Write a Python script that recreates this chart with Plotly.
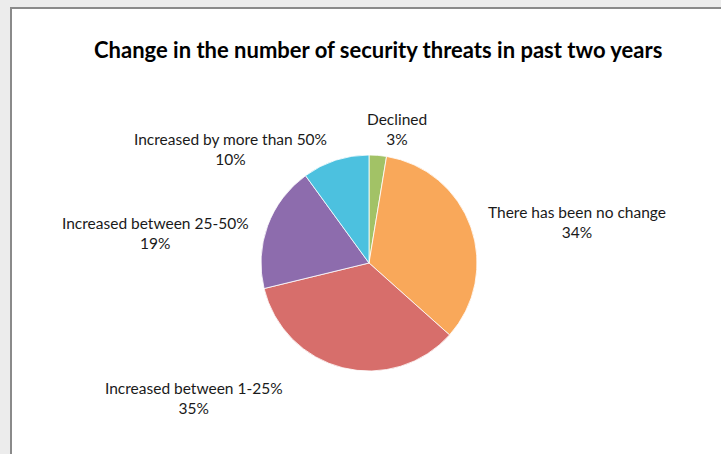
import plotly.graph_objects as go

categories = ["Declined", "There has been no change", "Increased between 1-25%",
              "Increased between 25-50%", "Increased by more than 50%"]
values = [2.6, 34.0, 34.6, 18.8, 10.0]
colors = ["#A2C266", "#F9A85A", "#D76E6B", "#8D6CAD", "#4CC1DF"]
title_text = "Change in the number of security threats in past two years"

W, H = 721, 454
cx, cy, r = 369, 263, 108

fig = go.Figure(go.Pie(
    labels=categories, values=values, sort=False, direction="clockwise",
    rotation=0, textinfo="none", hoverinfo="label+percent",
    marker=dict(colors=colors, line=dict(color="rgba(255,255,255,0.8)", width=1)),
    domain=dict(x=[(cx - r) / W, (cx + r) / W], y=[(H - cy - r) / H, (H - cy + r) / H]),
    showlegend=False,
))

# label positions (pixel centers) for each category
label_pos = [(397, 129), (577, 222), (194, 398), (155, 233), (230, 149)]
total = sum(values)
annotations = []
for cat, v, (px, py) in zip(categories, values, label_pos):
    annotations.append(dict(
        x=px / W, y=1 - py / H, xref="paper", yref="paper",
        text=f"{cat}<br>{round(v / total * 100)}%", showarrow=False,
        font=dict(family="Lato, sans-serif", size=15.5, color="#1a1a1a"),
        align="center", xanchor="center", yanchor="middle",
    ))
annotations.append(dict(
    x=378 / W, y=1 - 50 / H, xref="paper", yref="paper", text=f"<b>{title_text}</b>",
    showarrow=False, font=dict(family="Lato, sans-serif", size=22, color="#000000"),
    xanchor="center", yanchor="middle",
))

fig.update_layout(
    width=W, height=H, margin=dict(l=0, r=0, t=0, b=0),
    paper_bgcolor="#ececec", plot_bgcolor="#ececec",
    annotations=annotations,
    shapes=[dict(type="rect", xref="paper", yref="paper", layer="below",
                 x0=11 / W, x1=1.05, y0=-0.05, y1=1 - 8 / H,
                 fillcolor="#ffffff", line=dict(color="#8a8a8a", width=2))],
)
fig.write_html("out.html", config={"displayModeBar": False},
               post_script="document.body.style.margin='0';")
